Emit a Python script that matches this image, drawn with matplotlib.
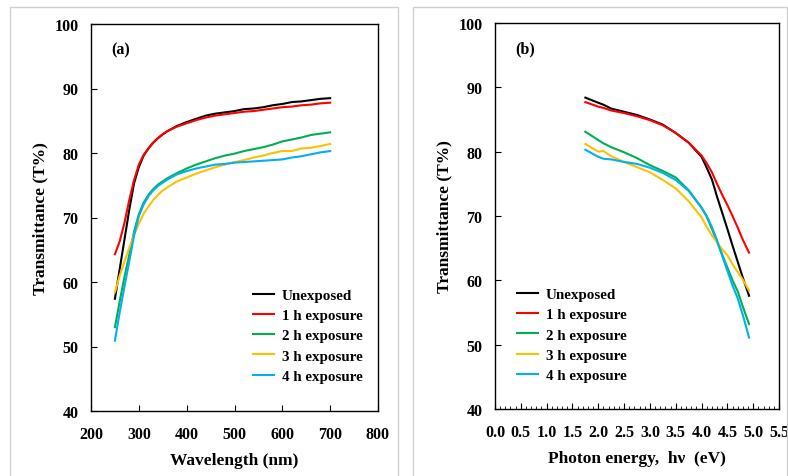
import numpy as np
import matplotlib
matplotlib.use("Agg")
import matplotlib.pyplot as plt
from matplotlib.patches import Rectangle
from matplotlib.ticker import MultipleLocator

plt.rcParams['font.family'] = ['Liberation Serif', 'DejaVu Serif']
plt.rcParams['font.weight'] = 'bold'

# ---- panel (a): transmittance vs wavelength ----
wavelength = [250, 260, 270, 280, 290, 300, 310, 320, 330, 340, 350, 360, 380, 400,
              420, 440, 460, 480, 500, 520, 540, 560, 580, 600, 620, 640, 660, 680, 700]
unexposed_a = [57.4, 62.0, 66.6, 71.2, 75.3, 77.8, 79.6, 80.7, 81.6, 82.3, 82.9, 83.4, 84.2, 84.8,
               85.3, 85.8, 86.1, 86.3, 86.5, 86.8, 86.9, 87.1, 87.4, 87.6, 87.9, 88.0, 88.2, 88.4, 88.5]
h1_a = [64.3, 66.3, 69.2, 72.7, 75.8, 78.2, 79.7, 80.7, 81.6, 82.3, 82.9, 83.4, 84.1, 84.6,
        85.1, 85.5, 85.8, 86.0, 86.2, 86.4, 86.5, 86.7, 86.9, 87.1, 87.2, 87.4, 87.5, 87.7, 87.8]
h2_a = [53.0, 57.0, 60.8, 64.2, 67.8, 70.5, 72.3, 73.5, 74.4, 75.1, 75.6, 76.1, 76.9, 77.6,
        78.2, 78.7, 79.2, 79.6, 79.9, 80.3, 80.6, 80.9, 81.3, 81.8, 82.1, 82.4, 82.8, 83.0, 83.2]
h3_a = [58.4, 61.0, 63.2, 65.3, 67.3, 69.0, 70.6, 71.7, 72.7, 73.5, 74.2, 74.7, 75.6, 76.2,
        76.8, 77.3, 77.8, 78.2, 78.6, 78.9, 79.3, 79.6, 80.0, 80.3, 80.3, 80.7, 80.8, 81.1, 81.4]
h4_a = [50.9, 55.3, 59.3, 63.2, 67.2, 70.2, 72.0, 73.3, 74.2, 74.9, 75.4, 75.9, 76.7, 77.2,
        77.6, 77.9, 78.2, 78.3, 78.5, 78.6, 78.7, 78.8, 78.9, 79.0, 79.3, 79.5, 79.8, 80.1, 80.3]

# ---- panel (b): transmittance vs photon energy ----
energy = [1.75, 2.0, 2.1, 2.25, 2.5, 2.75, 3.0, 3.25, 3.5, 3.75, 4.0, 4.1, 4.2, 4.3,
          4.4, 4.5, 4.6, 4.7, 4.8, 4.92]
unexposed_b = [88.4, 87.6, 87.3, 86.7, 86.2, 85.7, 85.0, 84.2, 82.9, 81.4, 79.2, 77.5, 75.7, 73.0,
               70.5, 68.0, 65.4, 62.9, 60.4, 57.6]
h1_b = [87.7, 87.0, 86.8, 86.4, 86.0, 85.5, 84.9, 84.1, 82.9, 81.4, 79.4, 78.2, 76.8, 75.0,
        73.3, 71.7, 70.0, 68.2, 66.3, 64.3]
h2_b = [83.1, 81.8, 81.3, 80.7, 79.9, 79.0, 77.9, 77.0, 76.0, 74.0, 71.3, 69.9, 68.0, 66.0,
        64.0, 62.0, 60.0, 58.3, 55.9, 53.2]
h3_b = [81.2, 80.0, 80.1, 79.3, 78.4, 77.6, 76.8, 75.6, 74.3, 72.3, 69.8, 68.3, 67.0, 65.9,
        64.8, 63.9, 62.5, 61.3, 60.1, 58.4]
h4_b = [80.3, 79.2, 78.9, 78.8, 78.4, 78.1, 77.5, 76.7, 75.6, 73.9, 71.3, 70.0, 68.3, 66.2,
        63.8, 61.5, 59.2, 57.2, 54.6, 51.1]

labels = ['Unexposed', '1 h exposure', '2 h exposure', '3 h exposure', '4 h exposure']
colors = ['#000000', '#FF0000', '#00B050', '#FFC000', '#00B0F0']

fig = plt.figure(figsize=(7.88, 4.77), dpi=100)

# light grey chart-area frames
for x0, y0, w in [(10, -10, 388), (413, -10, 374)]:
    fig.patches.append(Rectangle((x0, y0), w, 477 - 8 - y0, transform=None,
                                 fill=False, edgecolor='#d0d0d0', lw=1.0))

ax1 = fig.add_axes([91 / 788, 1 - 412 / 477, 287 / 788, 387 / 477])
ax2 = fig.add_axes([495 / 788, 1 - 410 / 477, 284 / 788, 386 / 477])

for y, c, l in zip([unexposed_a, h1_a, h2_a, h3_a, h4_a], colors, labels):
    ax1.plot(wavelength, y, color=c, lw=1.5, label=l)
for y, c, l in zip([unexposed_b, h1_b, h2_b, h3_b, h4_b], colors, labels):
    ax2.plot(energy, y, color=c, lw=1.5, label=l)

ax1.set_xlim(200, 800)
ax1.xaxis.set_major_locator(MultipleLocator(100))
ax2.set_xlim(0, 5.5)
ax2.xaxis.set_major_locator(MultipleLocator(0.5))
ax2.xaxis.set_minor_locator(MultipleLocator(0.1))
ax2.xaxis.set_major_formatter(plt.FuncFormatter(lambda v, p: f'{v:.1f}'))

for ax in (ax1, ax2):
    ax.set_ylim(40, 100)
    ax.yaxis.set_major_locator(MultipleLocator(10))
    ax.tick_params(which='major', direction='in', length=4, width=0.8, labelsize=11.5)
    ax.tick_params(axis='x', which='major', pad=11)
    ax.tick_params(axis='y', which='major', pad=9)
    ax.tick_params(which='minor', direction='in', length=2.5, width=0.6)
    ax.tick_params(top=False, right=False)
    for s in ax.spines.values():
        s.set_linewidth(1.0)
    ax.set_ylabel('Transmittance (T%)', fontsize=12.5, fontweight='bold', labelpad=4)
    ax.legend(loc='lower left', frameon=False, fontsize=10.8, handlelength=1.4,
              handletextpad=0.5, labelspacing=0.45, borderaxespad=0)

ax1.legend_.set_bbox_to_anchor((0.544, 0.057))
ax2.legend_.set_bbox_to_anchor((0.057, 0.054))

ax1.set_xlabel('Wavelength (nm)', fontsize=12.5, fontweight='bold', labelpad=7)
ax2.set_xlabel('Photon energy,  h\u03bd  (eV)', fontsize=12.5, fontweight='bold', labelpad=7)

ax1.text(0.072, 0.955, '(a)', transform=ax1.transAxes, fontsize=11.5, fontweight='bold', va='top')
ax2.text(0.07, 0.955, '(b)', transform=ax2.transAxes, fontsize=11.5, fontweight='bold', va='top')

fig.savefig('out.png', dpi=100)
